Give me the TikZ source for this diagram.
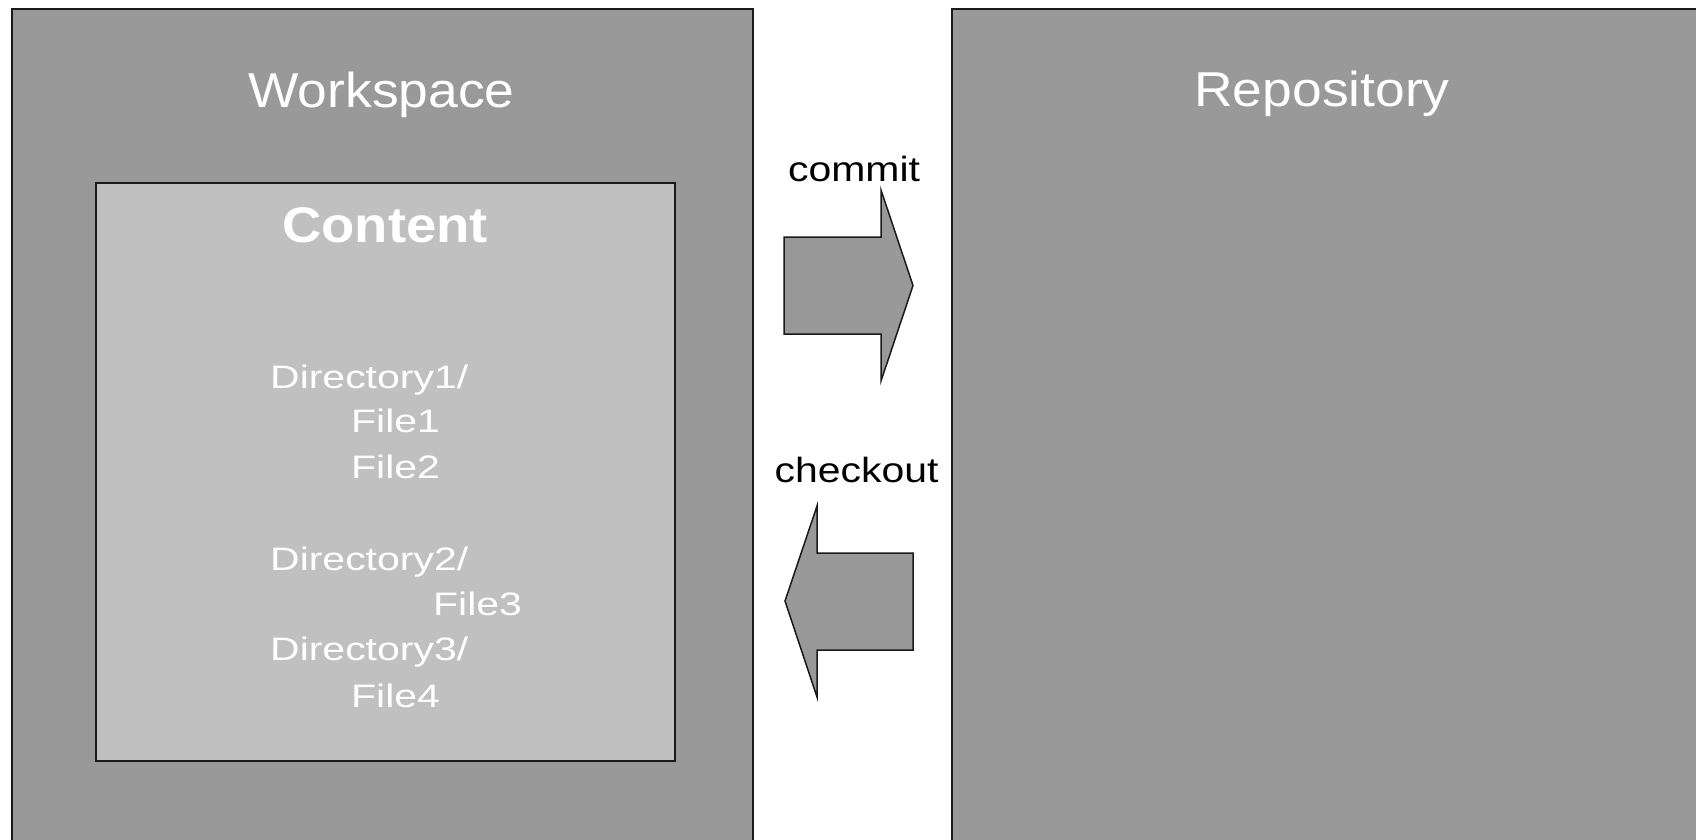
\documentclass[tikz,border=0pt]{standalone}
\usepackage{fontspec}
\setmainfont{Liberation Sans}
\newfontfamily\titlefont[FakeStretch=1.09]{Liberation Sans}
\newfontfamily\labelfont[FakeStretch=1.17]{Liberation Sans}
\newfontfamily\dirfont[FakeStretch=1.26]{Liberation Sans}
\definecolor{PANELGRAY}{HTML}{999999}
\definecolor{CONTGRAY}{HTML}{C0C0C0}
\definecolor{EDGEGRAY}{HTML}{1A1A1A}
\usetikzlibrary{positioning}

\begin{document}
\begin{tikzpicture}[
  x=1pt, y=-1pt,
  %% Big panels — mid gray fill
  panel/.style={
    draw=EDGEGRAY, fill=PANELGRAY, rectangle, line width=2pt,
    inner sep=0pt, outer sep=0pt
  },
  %% Content box — light gray fill
  cbox/.style={
    draw=EDGEGRAY, fill=CONTGRAY, rectangle, line width=2pt,
    inner sep=0pt, outer sep=0pt
  },
  ttl/.style={
    text=white, inner sep=0pt, anchor=base,
    font=\titlefont\fontsize{49}{58}\selectfont
  },
  dir/.style={
    text=white, inner sep=0pt, anchor=base west,
    font=\dirfont\fontsize{32.5}{40}\selectfont
  },
  lbl/.style={
    text=black, inner sep=0pt, anchor=base,
    font=\labelfont\fontsize{35}{42}\selectfont
  },
  bigarr/.style={draw=EDGEGRAY, fill=PANELGRAY, line width=1.5pt, line join=miter}
]
\useasboundingbox (0,0) rectangle (1696,839);
\clip (0,0) rectangle (1696,839);
\fill[white] (0,0) rectangle (1696,839);

%% ── Panels ───────────────────────────────────────────────────
\node[panel, minimum width=741pt, minimum height=851pt] (ws)   at (382.5, 434.5) {};
\node[panel, minimum width=758pt, minimum height=851pt] (repo) at (1331, 434.5) {};
\node[cbox,  minimum width=579pt, minimum height=578pt] (cont) at (385.5, 472) {};

%% ── Titles ───────────────────────────────────────────────────
\node[ttl] (wst) at (381.5, 107) {Workspace};
\node[ttl] (rpt) at (1322, 106) {Repository};
\node[ttl, font=\titlefont\bfseries\fontsize{50}{58}\selectfont] (cnt) at (385, 242) {Content};

%% ── Directory listing ────────────────────────────────────────
\node[dir] (d1) at (270, 388) {Directory1/};
\node[dir] (f1) at (351, 432) {File1};
\node[dir] (f2) at (351, 478) {File2};
\node[dir] (d2) at (270, 570) {Directory2/};
\node[dir] (f3) at (433, 615) {File3};
\node[dir] (d3) at (270, 660) {Directory3/};
\node[dir] (f4) at (351, 707) {File4};

%% ── Commit / checkout arrows ─────────────────────────────────
\node[lbl] (cmt) at (854, 181) {commit};
\draw[bigarr] (784,237) -- (881,237) -- (881,190) -- (913,285.5)
  -- (881,381) -- (881,334) -- (784,334) -- cycle;

\node[lbl] (cko) at (856.5, 482) {checkout};
\draw[bigarr] (913,553) -- (817,553) -- (817,506) -- (785,601)
  -- (817,697) -- (817,650) -- (913,650) -- cycle;

\end{tikzpicture}
\end{document}
